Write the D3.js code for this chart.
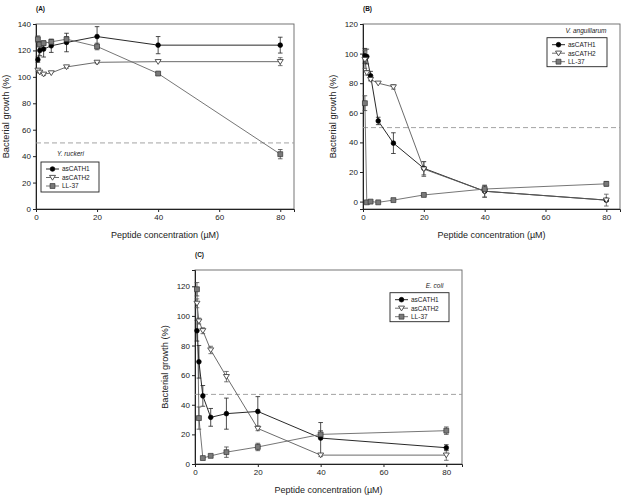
<!DOCTYPE html>
<html><head><meta charset="utf-8">
<script src="https://cdn.jsdelivr.net/npm/d3@7"></script>
<style>
html,body{margin:0;padding:0;background:#fff;}
svg{display:block;font-family:"Liberation Sans",Arial,sans-serif;}
</style></head>
<body><svg id="c" width="625" height="497"></svg>
<script>
// ---- data ----
const concentrations = [0.625, 1.25, 2.5, 5, 10, 20, 40, 80];
const seriesNames = ["asCATH1", "asCATH2", "LL-37"];
const xTicks = [0, 20, 40, 60, 80];
const yTicksA = [0, 20, 40, 60, 80, 100, 120, 140];
const yTicksBC = [0, 20, 40, 60, 80, 100, 120];

// Panel A: Y. ruckeri
const aCATH1_A = [113, 120, 121, 123.5, 126, 130.5, 124, 124];
const aCATH1_A_err = [2, 4, 6, 5, 7, 7.5, 6.5, 6];
const aCATH2_A = [105, 103.5, 102, 103, 107.5, 111, 111.5, 111.5];
const aCATH2_A_err = [1, 1, 1, 0.5, 1, 1, 0.5, 3];
const ll37_A = [128.5, 124.5, 125.5, 126.5, 128.5, 123, 102.5, 41.5];
const ll37_A_err = [2.5, 2, 1.5, 1.5, 2, 2.5, 1, 3.5];

// Panel B: V. anguillarum
const aCATH1_B = [98.5, 98, 85, 54.5, 39.5, 22.5, 7, 1];
const aCATH1_B_err = [5, 5, 3, 2.5, 7, 4.5, 4, 1];
const aCATH2_B = [96, 87, 82.5, 80, 77.5, 22, 7, 1];
const aCATH2_B_err = [6, 1.5, 1, 0.5, 1.5, 5, 4, 4];
const ll37_B = [66.5, -0.5, 0, -0.5, 1, 4.5, 8.5, 12];
const ll37_B_err = [5, 0.5, 0.5, 0.5, 0.5, 1, 1, 1.5];

// Panel C: E. coli
const aCATH1_C = [90, 69, 46, 31.5, 34, 35.5, 17.5, 11];
const aCATH1_C_err = [7, 11, 7, 6, 10.5, 10, 10.5, 2];
const aCATH2_C = [108.5, 96.5, 90, 77, 59, 24, 6, 6];
const aCATH2_C_err = [3, 2, 2, 2.5, 3.5, 1.5, 1, 3.5];
const ll37_C = [118, 31, 4, 5.5, 8, 11.5, 20, 22.5];
const ll37_C_err = [4.5, 7.5, 0.5, 0.5, 3.5, 2.5, 2.5, 2.5];

const panelLabels = ["(A)", "(B)", "(C)"];
const speciesLabels = ["Y. ruckeri", "V. anguillarum", "E. coli"];
const thresholds = [50, 50, 47];
const xTitle = "Peptide concentration (\u00B5M)";
const yTitle = "Bacterial growth (%)";

// ---- layout ----
const panels = [
  {label: panelLabels[0], species: speciesLabels[0], thr: thresholds[0],
   L: 36, R: 294, T: 24, B: 209, xd: [0, 84.5], yd: [0, 140], yt: yTicksA,
   data: [[aCATH1_A, aCATH1_A_err], [aCATH2_A, aCATH2_A_err], [ll37_A, ll37_A_err]],
   leg: {x: 41, y: 162, w: 58, h: 30}, sp: {x: 57, y: 156, anchor: "start"}},
  {label: panelLabels[1], species: speciesLabels[1], thr: thresholds[1],
   L: 363, R: 620, T: 24, B: 209, xd: [0, 84.5], yd: [-5, 120], yt: yTicksBC,
   data: [[aCATH1_B, aCATH1_B_err], [aCATH2_B, aCATH2_B_err], [ll37_B, ll37_B_err]],
   leg: {x: 547, y: 37.7, w: 60, h: 29}, sp: {x: 586, y: 33, anchor: "middle"}},
  {label: panelLabels[2], species: speciesLabels[2], thr: thresholds[2],
   L: 195, R: 462, T: 270, B: 464, xd: [0, 85], yd: [0, 131], yt: yTicksBC,
   data: [[aCATH1_C, aCATH1_C_err], [aCATH2_C, aCATH2_C_err], [ll37_C, ll37_C_err]],
   leg: {x: 390, y: 292.7, w: 59, h: 29}, sp: {x: 434.5, y: 288, anchor: "middle"}}
];

const styles = [
  {line: "#111", sym: d3.symbolCircle, size: 17, fill: "#000", stroke: "#000", err: "#222"},
  {line: "#5a5a5a", sym: "tri", size: 0, fill: "#fff", stroke: "#444", err: "#555"},
  {line: "#666", sym: d3.symbolSquare, size: 24, fill: "#7a7a7a", stroke: "#333", err: "#444"}
];

const svg = d3.select("#c");

function marker(g, s, x, y) {
  if (s.sym === "tri") {
    const w = 3.0, h = 4.8;
    g.append("path")
      .attr("d", `M${x - w},${y - h / 2 + 0.3}L${x + w},${y - h / 2 + 0.3}L${x},${y + h / 2 + 0.3}Z`)
      .attr("fill", s.fill).attr("stroke", s.stroke).attr("stroke-width", 0.9);
  } else {
    g.append("path")
      .attr("d", d3.symbol().type(s.sym).size(s.size)())
      .attr("transform", `translate(${x},${y})`)
      .attr("fill", s.fill).attr("stroke", s.stroke).attr("stroke-width", 0.7);
  }
}

panels.forEach(p => {
  const x = d3.scaleLinear().domain(p.xd).range([p.L, p.R]);
  const y = d3.scaleLinear().domain(p.yd).range([p.B, p.T]);
  const g = svg.append("g");

  // frame
  g.append("rect").attr("x", p.L).attr("y", p.T).attr("width", p.R - p.L).attr("height", p.B - p.T)
    .attr("fill", "none").attr("stroke", "#666").attr("stroke-width", 0.9);

  // axes
  const xa = d3.axisBottom(x).tickValues(xTicks).tickSize(3).tickPadding(2).tickFormat(d3.format("d"));
  const ya = d3.axisLeft(y).tickValues(p.yt).tickSize(3).tickPadding(2).tickFormat(d3.format("d"));
  const gx = g.append("g").attr("transform", `translate(0,${p.B})`).call(xa);
  const gy = g.append("g").attr("transform", `translate(${p.L},0)`).call(ya);
  [gx, gy].forEach(a => {
    a.select(".domain").attr("stroke", "#222").attr("stroke-width", 1);
    a.selectAll(".tick line").attr("stroke", "#222");
    a.selectAll("text").attr("font-size", 8).attr("fill", "#222")
      .attr("font-family", "Liberation Sans, Arial, sans-serif");
  });

  // titles
  g.append("text").attr("x", (p.L + p.R) / 2).attr("y", p.B + 29).attr("text-anchor", "middle")
    .attr("font-size", 9).attr("fill", "#222").text(xTitle);
  g.append("text").attr("transform", `translate(${p.L - 27},${(p.T + p.B) / 2}) rotate(-90)`)
    .attr("text-anchor", "middle").attr("font-size", 9.3).attr("fill", "#222").text(yTitle);
  g.append("text").attr("x", p.L).attr("y", p.T - 13).attr("font-size", 6.5).attr("font-weight", "bold")
    .attr("fill", "#111").text(p.label);

  // threshold dashed line
  g.append("line").attr("x1", p.L).attr("x2", p.R).attr("y1", y(p.thr)).attr("y2", y(p.thr))
    .attr("stroke", "#999").attr("stroke-width", 0.9).attr("stroke-dasharray", "5,3");

  // series
  p.data.forEach((sd, si) => {
    const s = styles[si];
    const vals = sd[0];
    const pts = concentrations.map((c, i) => [x(c), y(vals[i])]);
    g.append("path").attr("d", d3.line()(pts)).attr("fill", "none")
      .attr("stroke", s.line).attr("stroke-width", 0.9);
  });
  p.data.forEach((sd, si) => {
    const s = styles[si];
    const vals = sd[0], errs = sd[1];
    concentrations.forEach((c, i) => {
      const e = errs[i];
      if (e > 0.8) {
        const cx = x(c);
        const y1 = y(vals[i] - e), y2 = y(vals[i] + e);
        g.append("line").attr("x1", cx).attr("x2", cx).attr("y1", y1).attr("y2", y2)
          .attr("stroke", s.err).attr("stroke-width", 0.8);
        [y1, y2].forEach(yy => g.append("line").attr("x1", cx - 2.3).attr("x2", cx + 2.3)
          .attr("y1", yy).attr("y2", yy).attr("stroke", s.err).attr("stroke-width", 0.8));
      }
    });
  });
  p.data.forEach((sd, si) => {
    const s = styles[si];
    concentrations.forEach((c, i) => marker(g, s, x(c), y(sd[0][i])));
  });

  // species label
  g.append("text").attr("x", p.sp.x).attr("y", p.sp.y).attr("text-anchor", p.sp.anchor)
    .attr("font-size", 6.5).attr("font-style", "italic").attr("fill", "#222").text(p.species);

  // legend
  const lg = p.leg;
  g.append("rect").attr("x", lg.x).attr("y", lg.y).attr("width", lg.w).attr("height", lg.h)
    .attr("fill", "#fff").attr("stroke", "#222").attr("stroke-width", 0.9);
  seriesNames.forEach((n, i) => {
    const ry = lg.y + 7 + i * 8.5;
    const lx = lg.x + 5;
    g.append("line").attr("x1", lx).attr("x2", lx + 13).attr("y1", ry).attr("y2", ry)
      .attr("stroke", styles[i].line).attr("stroke-width", 0.9);
    marker(g, styles[i], lx + 6.5, ry);
    g.append("text").attr("x", lx + 16).attr("y", ry + 2.3).attr("font-size", 6.5)
      .attr("fill", "#222").text(n);
  });
});
</script></body></html>
